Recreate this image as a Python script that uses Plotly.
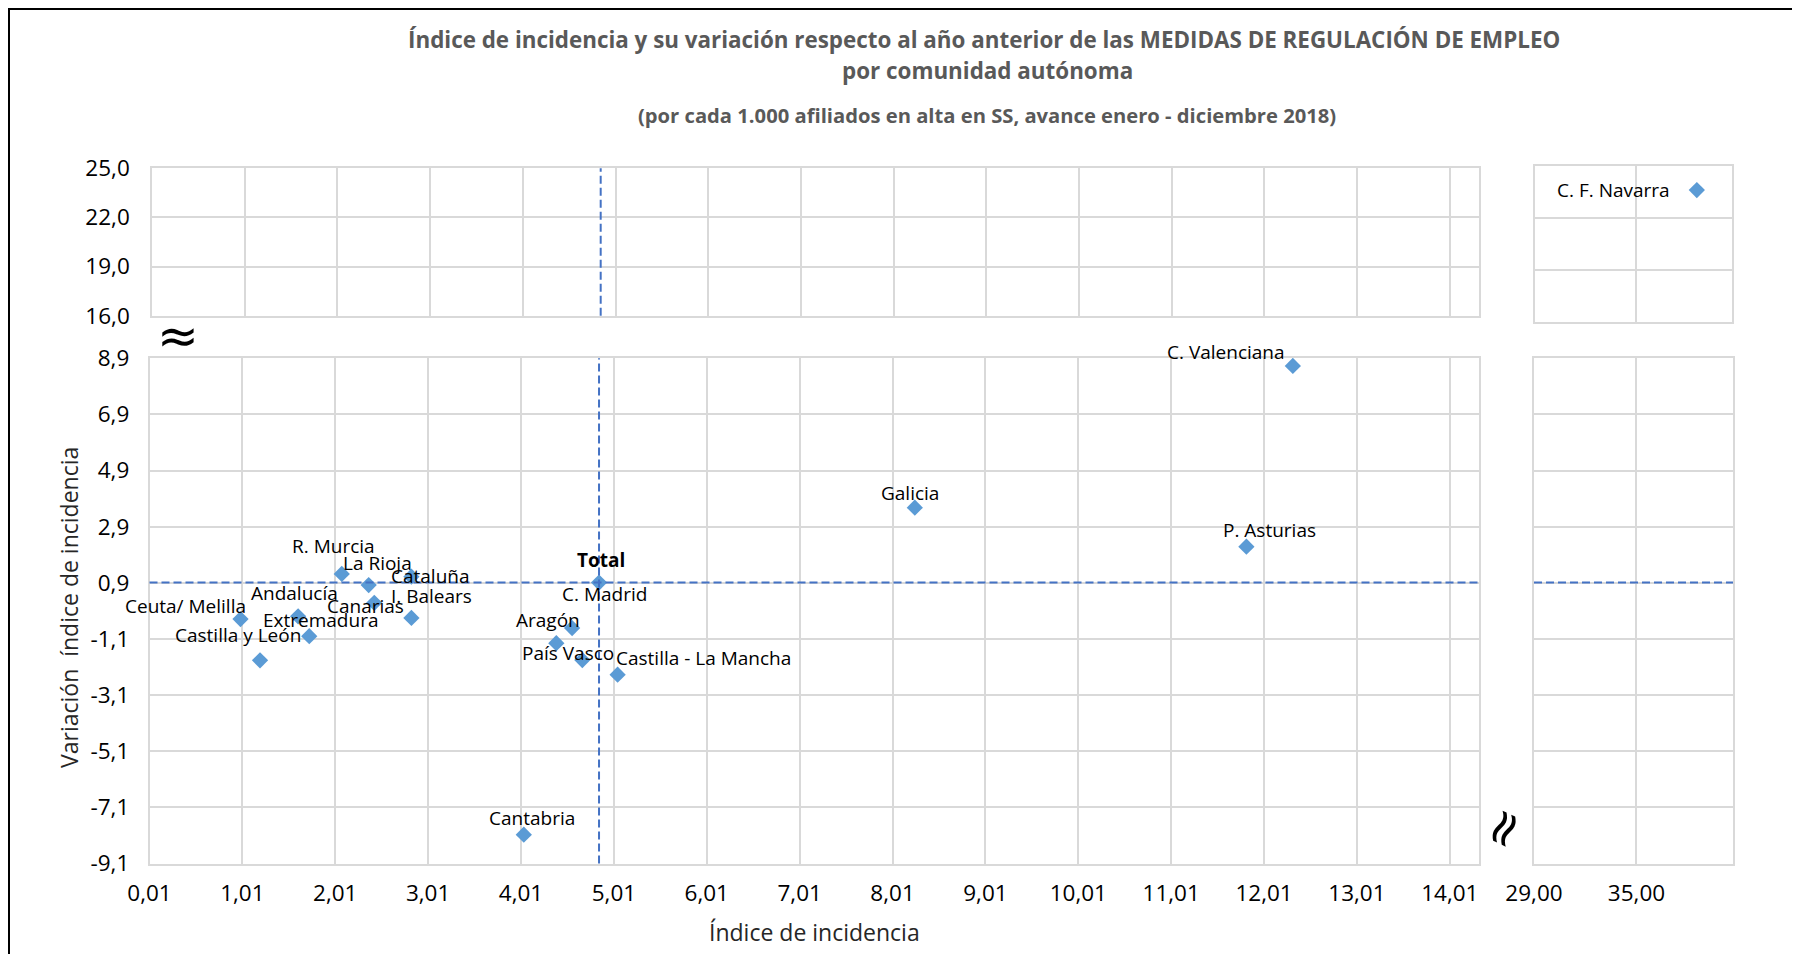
import plotly.graph_objects as go

# page is 1800x954; the html body keeps an 8px margin, so the figure is 8px smaller
OFF = 8
W, H = 1800 - OFF, 954 - OFF

# ---------------- data ----------------
names = ["Andalucía", "Aragón", "P. Asturias", "I. Balears", "Canarias", "Cantabria",
         "Castilla y León", "Castilla - La Mancha", "Cataluña", "C. Valenciana",
         "Extremadura", "Galicia", "C. Madrid", "R. Murcia", "C. F. Navarra",
         "País Vasco", "La Rioja", "Ceuta/ Melilla", "Total"]
indice = [1.61, 4.56, 11.82, 2.83, 2.43, 4.04, 1.20, 5.05, 2.83, 12.32,
          1.73, 8.25, 4.39, 2.08, 38.57, 4.67, 2.37, 0.99, 4.85]
variacion = [-0.29, -0.71, 2.19, -0.35, 0.19, -8.07, -1.86, -2.37, 1.12, 8.63,
             -1.00, 3.58, -1.25, 1.22, 23.6, -1.85, 0.82, -0.39, 0.91]

x_ticks_main = [0.01 + i for i in range(15)]
x_ticks_right = [29.0, 35.0]
y_ticks_low = [-9.1 + 2 * i for i in range(10)]
y_ticks_top = [16.0, 19.0, 22.0, 25.0]

title_l1 = "Índice de incidencia y su variación respecto al año anterior de las MEDIDAS DE REGULACIÓN DE EMPLEO"
title_l2 = "por comunidad autónoma"
title_l3 = "(por cada 1.000 afiliados en alta en SS, avance enero - diciembre 2018)"
x_title = "Índice de incidencia"
y_title = "Variación  índice de incidencia"


def fmt(v, d):
    return ("%.*f" % (d, v)).replace(".", ",")


# ---------------- styling / layout helpers ----------------
FONT = "Open Sans"
GRID = "#d9d9d9"
MARK = "#5b9bd5"
DASH = "#4472c4"

# label offsets in pixels (dx right, dy down) relative to the point
label_off = {
    "Andalucía": (-4, -23), "Aragón": (-24, -8), "P. Asturias": (23, -17),
    "I. Balears": (20, -22), "Canarias": (-9, 3), "Cantabria": (8, -17),
    "Castilla y León": (-22, -25), "Castilla - La Mancha": (86, -17),
    "Cataluña": (19, -1), "C. Valenciana": (-67, -14), "Extremadura": (11, -16),
    "Galicia": (-5, -15), "C. Madrid": (48, -49), "R. Murcia": (-8, -28),
    "C. F. Navarra": (-83, 0), "País Vasco": (-14, -7), "La Rioja": (9, -22),
    "Ceuta/ Melilla": (-55, -13), "Total": (2, -23),
}


def px_x(p):
    """page pixel -> paper fraction"""
    return (p - OFF) / W


def px_y(p):
    return 1 - (p - OFF) / H


# panel geometry (page pixels)
LL = dict(x0=149.5, x1=1478.6, y0=358.3, y1=863.6)   # lower-left
TL = dict(x0=152.0, x1=1478.6, y0=168.3, y1=315.7)   # top-left
LR = dict(x0=1534.0, x1=1733.0, y0=358.3, y1=863.6)  # lower-right
TR = dict(x0=1535.0, x1=1732.0, y0=165.7, y1=322.3)  # top-right

XR_MAIN = [0.01, 14.32]
XR_RIGHT = [29.0, 40.65]
YR_LOW = [-9.1, 8.9]
YR_TOP = [16.0, 25.0]

fig = go.Figure()

panels = [("x", "y", XR_MAIN, YR_LOW), ("x2", "y2", XR_MAIN, YR_TOP),
          ("x3", "y3", XR_RIGHT, YR_LOW), ("x4", "y4", XR_RIGHT, YR_TOP)]

annotations = []
for xa, ya, xr, yr in panels:
    px, py, pn = [], [], []
    for n, xv, yv in zip(names, indice, variacion):
        if xr[0] <= xv <= xr[1] and yr[0] <= yv <= yr[1]:
            px.append(xv); py.append(yv); pn.append(n)
    fig.add_trace(go.Scatter(
        x=px, y=py, xaxis=xa, yaxis=ya, mode="markers",
        marker=dict(symbol="diamond", size=12.5, color=MARK, line=dict(width=0)),
        hovertext=pn, showlegend=False, cliponaxis=False))
    for n, xv, yv in zip(pn, px, py):
        dx, dy = label_off[n]
        annotations.append(dict(
            x=xv, y=yv, xref=xa, yref=ya, text=("<b>%s</b>" % n) if n == "Total" else n,
            showarrow=False, xshift=dx, yshift=-dy, xanchor="center", yanchor="middle",
            font=dict(family=FONT, size=19, color="#000000")))

total_x = indice[names.index("Total")]
total_y = variacion[names.index("Total")]

common_axis = dict(showgrid=True, gridcolor=GRID, gridwidth=1.5, zeroline=False,
                   showline=True, linecolor=GRID, linewidth=1.5, mirror=True,
                   ticks="", fixedrange=True, automargin=False,
                   tickfont=dict(family=FONT, size=22.5, color="#000000"))

fig.update_layout(
    template="none",
    width=W, height=H, margin=dict(l=0, r=0, t=0, b=0, pad=0, autoexpand=False),
    paper_bgcolor="white", plot_bgcolor="white", showlegend=False,
    xaxis=dict(common_axis, domain=[px_x(LL["x0"]), px_x(LL["x1"])], range=XR_MAIN,
               tickvals=x_ticks_main, ticktext=[fmt(v, 2) for v in x_ticks_main],
               anchor="y", ticklabelstandoff=9),
    yaxis=dict(common_axis, domain=[px_y(LL["y1"]), px_y(LL["y0"])], range=YR_LOW,
               tickvals=y_ticks_low, ticktext=[fmt(v, 1) for v in y_ticks_low],
               anchor="x", ticklabelstandoff=14),
    xaxis2=dict(common_axis, domain=[px_x(TL["x0"]), px_x(TL["x1"])], range=XR_MAIN,
                tickvals=x_ticks_main, showticklabels=False, anchor="y2"),
    yaxis2=dict(common_axis, domain=[px_y(TL["y1"]), px_y(TL["y0"])], range=YR_TOP,
                tickvals=y_ticks_top, ticktext=[fmt(v, 1) for v in y_ticks_top],
                anchor="x2", ticklabelstandoff=16),
    xaxis3=dict(common_axis, domain=[px_x(LR["x0"]), px_x(LR["x1"])], range=XR_RIGHT,
                tickvals=x_ticks_right, ticktext=[fmt(v, 2) for v in x_ticks_right],
                anchor="y3", ticklabelstandoff=9),
    yaxis3=dict(common_axis, domain=[px_y(LR["y1"]), px_y(LR["y0"])], range=YR_LOW,
                tickvals=y_ticks_low, showticklabels=False, anchor="x3"),
    xaxis4=dict(common_axis, domain=[px_x(TR["x0"]), px_x(TR["x1"])], range=XR_RIGHT,
                tickvals=x_ticks_right, showticklabels=False, anchor="y4"),
    yaxis4=dict(common_axis, domain=[px_y(TR["y1"]), px_y(TR["y0"])], range=YR_TOP,
                tickvals=y_ticks_top, showticklabels=False, anchor="x4"),
)

dash_line = dict(color=DASH, width=2, dash="8px,4px")
shapes = [
    dict(type="line", xref="x", yref="y domain", x0=total_x, x1=total_x, y0=0, y1=1, line=dash_line),
    dict(type="line", xref="x2", yref="y2 domain", x0=total_x, x1=total_x, y0=0, y1=1, line=dash_line),
    dict(type="line", xref="x domain", yref="y", x0=0, x1=1, y0=total_y, y1=total_y, line=dash_line),
    dict(type="line", xref="x3 domain", yref="y3", x0=0, x1=1, y0=total_y, y1=total_y, line=dash_line),
    # outer frame
    dict(type="rect", xref="paper", yref="paper", x0=px_x(9), x1=px_x(1812), y0=px_y(966), y1=px_y(9),
         line=dict(color="#000000", width=2), fillcolor="rgba(0,0,0,0)", layer="above"),
]
fig.update_layout(shapes=shapes)

title_font = dict(family=FONT, size=22.4, color="#595959")
sub_font = dict(family=FONT, size=20.2, color="#595959")


def paper_text(x, y, text, font, angle=0):
    return dict(x=px_x(x), y=px_y(y), xref="paper", yref="paper", text=text, textangle=angle,
                showarrow=False, xanchor="center", yanchor="middle", font=font)


annotations += [
    paper_text(984, 39, "<b>%s</b>" % title_l1, title_font),
    paper_text(987, 71, "<b>%s</b>" % title_l2, title_font),
    paper_text(987, 115, "<b>%s</b>" % title_l3, sub_font),
    paper_text(814, 932, x_title, dict(family=FONT, size=23, color="#262626")),
    paper_text(69, 608, y_title, dict(family=FONT, size=23, color="#262626"), -90),
    # axis-break symbols
    paper_text(178, 336, "≈", dict(family="DejaVu Sans", size=50, color="#000000")),
    paper_text(1503, 828, "≈", dict(family="DejaVu Sans", size=50, color="#000000"), -65),
]
fig.update_layout(annotations=annotations)

fig.write_html("out.html")
